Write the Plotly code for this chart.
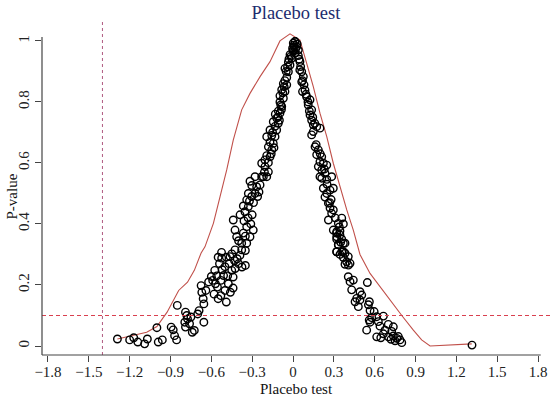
import plotly.graph_objects as go

# ---------------- data ----------------
placebo_x = [
    -1.29, -1.20, -1.17, -1.14, -1.09, -1.07, -0.99, -0.96, -1.00, -0.895, -0.88, -0.87, -0.855,
    -0.85, -0.79, -0.78, -0.775, -0.795, -0.76, -0.79, -0.74, -0.725, -0.75, -0.70, -0.69, -0.655,
    -0.675, -0.67, -0.66, -0.655, -0.64, -0.60, -0.59, -0.57, -0.55, -0.49, -0.575, -0.555, -0.54,
    -0.53, -0.51, -0.50, -0.475, -0.45, -0.44, -0.46, -0.425, -0.40, -0.375, -0.35, -0.35, -0.39,
    -0.49, -0.55, -0.525, -0.45, -0.41,
    -0.62, -0.58, -0.52, -0.48, -0.47, -0.43, -0.56, -0.50, -0.44, -0.53,
    -0.524, -0.463, -0.426, -0.377, -0.34, -0.377, -0.316, -0.365, -0.414, -0.292, -0.34, -0.426,
    -0.439, -0.389, -0.353, -0.328, -0.365, -0.34, -0.303, -0.279, -0.328, -0.267, -0.303, -0.242,
    -0.23, -0.279, -0.316, -0.218,
    -0.40, -0.35, -0.31, -0.36, -0.30, -0.33, -0.29, -0.26, -0.25, -0.32,
    -0.193, -0.181, -0.206, -0.23, -0.181, -0.206, -0.169, -0.193, -0.156, -0.181, -0.145, -0.169,
    -0.132, -0.193, -0.156, -0.12, -0.169, -0.132, -0.108, -0.145, -0.12, -0.096, -0.108, -0.083,
    -0.096, -0.071, -0.096, -0.059, -0.083, -0.046, -0.071, -0.046, -0.034, -0.059, -0.022, -0.034,
    -0.010, -0.022, 0.002, -0.003, 0.007, 0.015, 0.002,
    -0.21, -0.16, -0.14, -0.15, -0.11, -0.13, -0.09, -0.075, -0.06, -0.05, -0.04, -0.015, -0.03,
    0.0, 0.01, -0.065, -0.085, -0.10,
    0.015, 0.027, 0.039, 0.015, 0.039, 0.051, 0.056, 0.064, 0.076, 0.064, 0.081, 0.088, 0.070,
    0.10, 0.125, 0.112, 0.137, 0.125, 0.137, 0.149, 0.174, 0.198, 0.149, 0.137,
    0.03, 0.045, 0.02, 0.05, 0.07, 0.095, 0.11, 0.12, 0.145, 0.16,
    0.162, 0.186, 0.174, 0.211, 0.198, 0.223, 0.186, 0.248, 0.211, 0.235, 0.198, 0.284, 0.211,
    0.248, 0.223, 0.272, 0.248, 0.296, 0.235, 0.26, 0.272, 0.296, 0.284, 0.26, 0.358, 0.333,
    0.37, 0.296, 0.345, 0.321, 0.358, 0.382, 0.333, 0.321, 0.37, 0.345, 0.406,
    0.17, 0.20, 0.23, 0.25, 0.28, 0.27, 0.31, 0.34, 0.32, 0.35,
    0.321, 0.345, 0.321, 0.37, 0.333, 0.321, 0.358, 0.382, 0.37, 0.394, 0.419, 0.407, 0.382,
    0.406, 0.443, 0.419, 0.546, 0.431, 0.492, 0.505, 0.468, 0.492, 0.456, 0.48, 0.561, 0.554,
    0.566, 0.596, 0.615, 0.664, 0.578, 0.56, 0.627, 0.70, 0.566, 0.541, 0.639, 0.676, 0.664,
    0.615, 0.645, 0.737, 0.725, 0.701, 0.737, 0.762, 0.786, 0.774, 0.799, 0.75, 0.72, 1.315,
]
p_value = [
    0.023, 0.020, 0.027, 0.013, 0.007, 0.023, 0.013, 0.020, 0.060, 0.062, 0.053, 0.034, 0.020,
    0.133, 0.111, 0.100, 0.089, 0.078, 0.073, 0.062, 0.045, 0.051, 0.095, 0.105, 0.116, 0.078,
    0.198, 0.176, 0.155, 0.138, 0.182, 0.228, 0.215, 0.204, 0.155, 0.144, 0.248, 0.193, 0.270,
    0.215, 0.231, 0.182, 0.204, 0.248, 0.226, 0.176, 0.254, 0.270, 0.259, 0.264, 0.313, 0.297,
    0.291, 0.291, 0.307, 0.302, 0.286,
    0.21, 0.17, 0.25, 0.23, 0.27, 0.28, 0.23, 0.26, 0.19, 0.165,
    0.288, 0.293, 0.315, 0.315, 0.337, 0.337, 0.358, 0.370, 0.358, 0.380, 0.391, 0.380,
    0.413, 0.430, 0.440, 0.457, 0.459, 0.479, 0.490, 0.500, 0.500, 0.522, 0.526, 0.528,
    0.555, 0.555, 0.540, 0.555,
    0.345, 0.36, 0.40, 0.41, 0.43, 0.42, 0.47, 0.49, 0.505, 0.475,
    0.555, 0.571, 0.588, 0.599, 0.601, 0.610, 0.620, 0.624, 0.643, 0.653, 0.664, 0.668,
    0.686, 0.686, 0.690, 0.708, 0.708, 0.720, 0.730, 0.735, 0.747, 0.763, 0.770, 0.785,
    0.800, 0.812, 0.820, 0.834, 0.840, 0.856, 0.860, 0.880, 0.899, 0.910, 0.921, 0.930,
    0.943, 0.955, 0.965, 0.976, 0.986, 0.998, 0.993,
    0.57, 0.63, 0.65, 0.70, 0.75, 0.76, 0.79, 0.83, 0.87, 0.90, 0.915, 0.95, 0.94,
    0.97, 0.98, 0.85, 0.775, 0.74,
    0.998, 0.981, 0.970, 0.960, 0.952, 0.932, 0.916, 0.899, 0.883, 0.866, 0.856, 0.839, 0.834,
    0.817, 0.807, 0.790, 0.774, 0.757, 0.740, 0.725, 0.719, 0.714, 0.703, 0.692,
    0.99, 0.94, 0.975, 0.905, 0.87, 0.825, 0.80, 0.77, 0.75, 0.73,
    0.653, 0.643, 0.627, 0.620, 0.604, 0.599, 0.588, 0.593, 0.577, 0.566, 0.555, 0.555, 0.550,
    0.546, 0.517, 0.511, 0.500, 0.517, 0.488, 0.468, 0.452, 0.446, 0.435, 0.413, 0.419, 0.402,
    0.400, 0.380, 0.377, 0.358, 0.350, 0.337, 0.332, 0.309, 0.309, 0.300, 0.293,
    0.66, 0.63, 0.58, 0.53, 0.48, 0.47, 0.42, 0.39, 0.37, 0.34,
    0.375, 0.364, 0.350, 0.337, 0.332, 0.309, 0.309, 0.304, 0.290, 0.276, 0.271, 0.265, 0.268,
    0.227, 0.216, 0.211, 0.208, 0.184, 0.178, 0.167, 0.156, 0.151, 0.145, 0.129, 0.145, 0.135,
    0.116, 0.113, 0.096, 0.098, 0.093, 0.085, 0.080, 0.071, 0.078, 0.052, 0.065, 0.052, 0.040,
    0.030, 0.027, 0.063, 0.048, 0.030, 0.033, 0.025, 0.020, 0.031, 0.011, 0.017, 0.022, 0.003,
]

curve_x = [-1.29, -1.075, -1.0, -0.925, -0.84, -0.775, -0.725, -0.675, -0.647, -0.585, -0.536,
           -0.487, -0.439, -0.377, -0.316, -0.242, -0.169, -0.096, -0.022, 0.051, 0.1, 0.149,
           0.198, 0.248, 0.296, 0.345, 0.395, 0.443, 0.492, 0.566, 0.639, 0.713, 0.799, 0.884,
           0.945, 1.007, 1.154, 1.313]
curve_y = [0.023, 0.045, 0.064, 0.111, 0.182, 0.209, 0.248, 0.305, 0.325, 0.402, 0.49,
           0.577, 0.675, 0.774, 0.828, 0.883, 0.932, 1.0, 1.023, 1.003, 0.927, 0.85,
           0.763, 0.686, 0.599, 0.522, 0.446, 0.38, 0.30, 0.238, 0.194, 0.151, 0.10, 0.052,
           0.02, 0.0, 0.003, 0.007]

x_ticks = [-1.8, -1.5, -1.2, -0.9, -0.6, -0.3, 0, 0.3, 0.6, 0.9, 1.2, 1.5, 1.8]
x_tick_labels = ["\u22121.8", "\u22121.5", "\u22121.2", "\u22120.9", "\u22120.6", "\u22120.3",
                 "0", "0.3", "0.6", "0.9", "1.2", "1.5", "1.8"]
y_ticks = [0, 0.2, 0.4, 0.6, 0.8, 1]
y_tick_labels = ["0", "0.2", "0.4", "0.6", "0.8", "1"]

ref_x = -1.4
ref_p = 0.1

# ---------------- figure ----------------
XR = [-1.844, 1.888]
YR = [-0.0295, 1.062]
FONT = "Liberation Serif, Times New Roman, serif"
RED = "#c0504a"
DASH = "#d9404f"
AX = "#444444"

def xfrac(v):
    return (v - XR[0]) / (XR[1] - XR[0])

def yfrac(v):
    return (v - YR[0]) / (YR[1] - YR[0])

fig = go.Figure()
fig.add_trace(go.Scatter(x=curve_x, y=curve_y, mode="lines",
                         line=dict(color=RED, width=1.1), hoverinfo="skip"))
fig.add_trace(go.Scatter(x=placebo_x, y=p_value, mode="markers",
                         marker=dict(symbol="circle-open", size=7.5, color="black",
                                     line=dict(color="black", width=1.4))))

shapes = [
    dict(type="line", xref="x", yref="paper", x0=ref_x, x1=ref_x, y0=0, y1=1,
         line=dict(color="#b05a80", width=1, dash="3px,3px"), layer="above"),
    dict(type="line", xref="paper", yref="y", x0=0, x1=1, y0=ref_p, y1=ref_p,
         line=dict(color=DASH, width=1.2, dash="4px,3px"), layer="above"),
    dict(type="line", xref="paper", yref="paper", x0=0, x1=xfrac(1.82), y0=0, y1=0,
         line=dict(color=AX, width=1.2), layer="above"),
    dict(type="line", xref="paper", yref="paper", x0=0, x1=0, y0=0, y1=yfrac(1.013),
         line=dict(color=AX, width=1.2), layer="above"),
]

annotations = [
    dict(text="Placebo test", xref="paper", yref="paper", x=0.5, y=0, yshift=-34,
         xanchor="center", yanchor="middle", showarrow=False,
         font=dict(family=FONT, size=15, color="#111111")),
    dict(text="P-value", xref="paper", yref="paper", x=0, y=yfrac(0.49), xshift=-30,
         xanchor="center", yanchor="middle", textangle=-90, showarrow=False,
         font=dict(family=FONT, size=15, color="#111111")),
]

fig.update_layout(
    width=550, height=399,
    margin=dict(l=42, r=0, t=22, b=44, autoexpand=False),
    paper_bgcolor="white", plot_bgcolor="white",
    showlegend=False,
    shapes=shapes,
    annotations=annotations,
    font=dict(family=FONT, size=15, color="#222222"),
    title=dict(text="Placebo test", x=0.538, xref="container", y=1 - 13 / 399,
               yref="container", xanchor="center", yanchor="middle",
               font=dict(family=FONT, size=18.5, color="#1c2b6e")),
    xaxis=dict(range=XR, showgrid=False, zeroline=False, showline=False, automargin=False,
               tickmode="array", tickvals=x_ticks, ticktext=x_tick_labels,
               ticks="outside", ticklen=6, tickcolor=AX, tickwidth=1,
               ticklabelstandoff=-3,
               tickfont=dict(family=FONT, size=15, color="#222222")),
    yaxis=dict(range=YR, showgrid=False, zeroline=False, showline=False, automargin=False,
               tickmode="array", tickvals=y_ticks, ticktext=y_tick_labels,
               tickangle=-90,
               ticks="outside", ticklen=6, tickcolor=AX, tickwidth=1,
               tickfont=dict(family=FONT, size=15, color="#222222")),
)

fig.write_html("out.html", config={"displayModeBar": False},
               post_script="document.body.style.margin='0px';document.body.style.padding='0px';")
